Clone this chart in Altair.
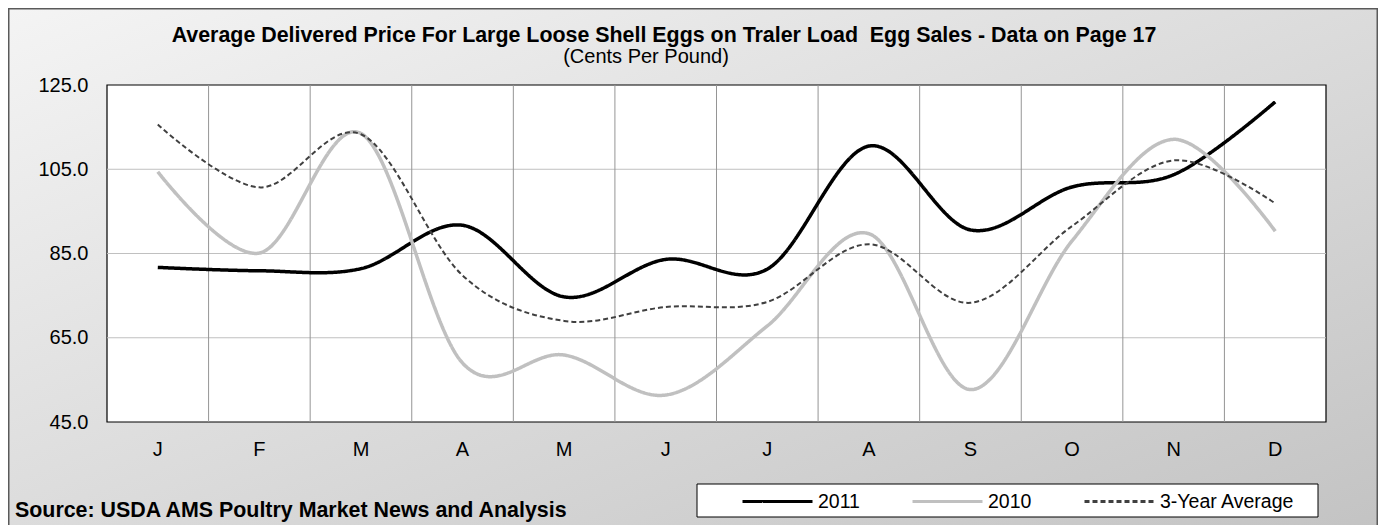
import altair as alt
import pandas as pd

# ---------------- data ----------------
months = ["Jan", "Feb", "Mar", "Apr", "May", "Jun", "Jul", "Aug", "Sep", "Oct", "Nov", "Dec"]
series_names = ["2011", "2010", "3-Year Average"]
v2011 = [81.7, 80.9, 81.4, 91.7, 74.7, 83.6, 81.3, 110.5, 90.6, 100.8, 103.7, 121.0]
v2010 = [104.4, 85.1, 113.5, 59.0, 60.9, 51.4, 67.8, 89.7, 52.7, 88.0, 112.1, 90.3]
v_avg = [115.6, 100.7, 113.3, 79.8, 69.0, 72.3, 73.5, 87.2, 73.3, 91.5, 107.1, 96.9]
y_ticks = [45.0, 65.0, 85.0, 105.0, 125.0]
title_text = "Average Delivered Price For Large Loose Shell Eggs on Traler Load\u00a0 Egg Sales - Data on Page 17"
subtitle_text = "(Cents Per Pound)"
source_text = "Source: USDA AMS Poultry Market News and Analysis"

# ---------------- layout ----------------
W, H = 1219, 337
PL, PT, PR, PB = 99, 77, 52, 103
FONT = "Liberation Sans"

rows = []
for name, vals in zip(series_names, [v2011, v2010, v_avg]):
    for m, v in zip(months, vals):
        rows.append({"month": m, "value": v, "series": name})
df = pd.DataFrame(rows)
one = pd.DataFrame({"k": [0]})

x_scale = alt.Scale(domain=months, type="band", paddingInner=0, paddingOuter=0)
y_scale = alt.Scale(domain=[45, 125], nice=False, zero=False)

x_axis = alt.Axis(title=None, labelExpr="substring(datum.label, 0, 1)", labelFont=FONT,
                  labelFontSize=20, labelColor="black", labelPadding=17, ticks=False,
                  domain=False, grid=False, labelAngle=0, zindex=2)
y_axis = alt.Axis(title=None, values=y_ticks, format=".1f", labelFont=FONT, labelFontSize=20,
                  labelColor="black", labelPadding=19, ticks=False, domain=False, grid=False,
                  zindex=2)

legend = alt.Legend(title=None, orient="none", legendX=634, legendY=380, direction="horizontal",
                    symbolType="stroke", symbolSize=4900, symbolStrokeWidth=3,
                    labelFont=FONT, labelFontSize=19.5, labelColor="black", labelOffset=4,
                    columnPadding=46, padding=0)

gradient = alt.LinearGradient(
    gradient="linear",
    stops=[alt.GradientStop(color="#f4f4f4", offset=0),
           alt.GradientStop(color="#c3c3c3", offset=1)],
    x1=0, y1=0, x2=1, y2=1,
)

bg = alt.Chart(one).mark_rect(fill=gradient, stroke="#5a5a5a", strokeWidth=1.5).encode(
    x=alt.value(-PL + 0.75), x2=alt.value(W + PR - 0.75),
    y=alt.value(-PT + 0.75), y2=alt.value(H + PB + 10),
)

plot_bg = alt.Chart(one).mark_rect(fill="white", stroke="black", strokeWidth=1.2).encode(
    x=alt.value(0), x2=alt.value(W), y=alt.value(0), y2=alt.value(H),
)

hgrid = alt.Chart(pd.DataFrame({"value": y_ticks[1:-1]})).mark_rule(
    color="#c0c0c0", strokeWidth=1).encode(
    y=alt.Y("value:Q", scale=y_scale, axis=y_axis),
)

vgrid = alt.Chart(pd.DataFrame({"month": months[1:]})).mark_rule(
    color="#959595", strokeWidth=1).encode(
    x=alt.X("month:N", scale=x_scale, bandPosition=0, axis=x_axis),
)

lines = alt.Chart(df).mark_line(interpolate="cardinal", tension=0).encode(
    x=alt.X("month:N", scale=x_scale, bandPosition=0.5, axis=x_axis),
    y=alt.Y("value:Q", scale=y_scale, axis=y_axis),
    color=alt.Color("series:N", sort=series_names,
                    scale=alt.Scale(domain=series_names, range=["#000000", "#c0c0c0", "#404040"]),
                    legend=legend),
    strokeDash=alt.StrokeDash("series:N", sort=series_names,
                              scale=alt.Scale(domain=series_names, range=[[1, 0], [1, 0], [5, 3]]),
                              legend=legend),
    strokeWidth=alt.condition(alt.datum.series == "3-Year Average", alt.value(2), alt.value(3.5)),
)

legend_box = alt.Chart(one).mark_rect(fill="white", stroke="black", strokeWidth=1).encode(
    x=alt.value(590), x2=alt.value(1211), y=alt.value(399), y2=alt.value(432),
)

title = alt.Chart(one).mark_text(text=title_text, font=FONT, fontSize=21.4, fontWeight="bold",
                                 align="center", baseline="alphabetic", color="black").encode(
    x=alt.value(557), y=alt.value(-43))
subtitle = alt.Chart(one).mark_text(text=subtitle_text, font=FONT, fontSize=20,
                                    align="center", baseline="alphabetic", color="black").encode(
    x=alt.value(539), y=alt.value(-22))
source = alt.Chart(one).mark_text(text=source_text, font=FONT, fontSize=21.4, fontWeight="bold",
                                  align="left", baseline="alphabetic", color="black").encode(
    x=alt.value(-92), y=alt.value(432))

chart = alt.layer(bg, plot_bg, hgrid, vgrid, lines, legend_box, title, subtitle, source).properties(
    width=W, height=H,
    padding={"left": PL, "top": PT, "right": PR, "bottom": PB},
    autosize=alt.AutoSizeParams(type="none"),
    background="white",
).configure_view(stroke=None)

chart.save("out.html", embed_options={"renderer": "svg", "actions": False})
